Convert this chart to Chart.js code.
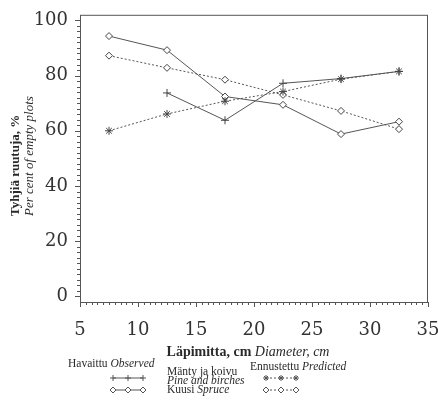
<!DOCTYPE html>
<html>
<head>
<meta charset="utf-8">
<script src="https://cdn.jsdelivr.net/npm/chart.js@4.4.1/dist/chart.umd.min.js"></script>
<style>
  html, body { margin: 0; padding: 0; background: #fff; }
  #wrap { width: 438px; height: 410px; position: relative; }
</style>
</head>
<body>
<div id="wrap"><canvas id="chart"></canvas></div>
<script>
// Diameter classes (cm) and share of empty plots (%)
const diameters = [7.5, 12.5, 17.5, 22.5, 27.5, 32.5];
const pineObserved = [null, 73.7, 63.8, 77.2, 78.9, 81.5];
const pinePredicted = [60.0, 66.1, 70.7, 74.2, 78.7, 81.5];
const spruceObserved = [94.3, 89.2, 72.4, 69.4, 58.8, 63.3];
const sprucePredicted = [87.2, 82.8, 78.5, 73.0, 67.2, 60.6];

const xTicks = [5, 10, 15, 20, 25, 30, 35];
const yTicks = [0, 20, 40, 60, 80, 100];

const INK = '#2a2a2a';
const LINE = '#555';
const SERIF = '"Liberation Serif", "Times New Roman", serif';

function toPoints(values) {
  return diameters.map((d, i) => ({ x: d, y: values[i] }));
}

// Axis frame, minor ticks, titles and legend
const decorations = {
  id: 'decorations',
  afterDraw(chart) {
    const ctx = chart.ctx;
    const area = chart.chartArea;
    const xs = chart.scales.x;
    const ys = chart.scales.y;

    ctx.save();
    ctx.strokeStyle = '#555';
    ctx.lineWidth = 1;
    ctx.strokeRect(area.left + 0.5, area.top + 0.5, area.right - area.left - 1, area.bottom - area.top);

    // x ticks: minor every 0.5, major every 5
    ctx.beginPath();
    for (let v = 5; v <= 35.001; v += 0.5) {
      const px = Math.round(xs.getPixelForValue(v)) + 0.5;
      const len = Math.abs(v % 5) < 0.01 ? 5 : 3;
      ctx.moveTo(px, area.bottom);
      ctx.lineTo(px, area.bottom + len);
    }
    // y ticks: minor every 2, major every 20
    for (let v = 0; v <= 100.001; v += 2) {
      const py = Math.round(ys.getPixelForValue(v)) + 0.5;
      const len = v % 20 === 0 ? 5 : 3;
      ctx.moveTo(area.left, py);
      ctx.lineTo(area.left - len, py);
    }
    ctx.stroke();

    ctx.fillStyle = INK;

    // y axis title (two rotated lines)
    ctx.save();
    ctx.translate(16, 216);
    ctx.rotate(-Math.PI / 2);
    ctx.textAlign = 'left';
    ctx.textBaseline = 'middle';
    ctx.font = 'bold 13px ' + SERIF;
    ctx.fillText('Tyhjiä ruutuja, %', 0, 0);
    ctx.font = 'italic 13px ' + SERIF;
    ctx.fillText('Per cent of empty plots', 0, 14);
    ctx.restore();

    // x axis title
    ctx.textBaseline = 'middle';
    ctx.textAlign = 'left';
    const boldPart = 'Läpimitta, cm ';
    const italicPart = 'Diameter, cm';
    ctx.font = 'bold 14px ' + SERIF;
    const wb = ctx.measureText(boldPart).width;
    ctx.font = 'italic 14px ' + SERIF;
    const wi = ctx.measureText(italicPart).width;
    let tx = 248 - (wb + wi) / 2;
    ctx.font = 'bold 14px ' + SERIF;
    ctx.fillText(boldPart, tx, 352);
    ctx.font = 'italic 14px ' + SERIF;
    ctx.fillText(italicPart, tx + wb, 352);

    // legend
    function mixed(parts, x, y) {
      parts.forEach(p => {
        ctx.font = (p.italic ? 'italic ' : '') + '11.5px ' + SERIF;
        ctx.fillText(p.text, x, y);
        x += ctx.measureText(p.text).width;
      });
    }
    mixed([{ text: 'Havaittu ' }, { text: 'Observed', italic: true }], 68, 364);
    mixed([{ text: 'Ennustettu ' }, { text: 'Predicted', italic: true }], 250, 367);
    mixed([{ text: 'Mänty ja koivu' }], 167, 372);
    mixed([{ text: 'Pine and birches', italic: true }], 167, 381);
    mixed([{ text: 'Kuusi ' }, { text: 'Spruce', italic: true }], 167, 390);

    function sample(x0, y, dashed, marker) {
      ctx.strokeStyle = LINE;
      ctx.lineWidth = 1;
      ctx.setLineDash(dashed ? [2, 2] : []);
      ctx.beginPath();
      ctx.moveTo(x0, y);
      ctx.lineTo(x0 + 30, y);
      ctx.stroke();
      ctx.setLineDash([]);
      [0, 15, 30].forEach(dx => {
        const cx = x0 + dx;
        ctx.beginPath();
        if (marker === 'cross') {
          ctx.moveTo(cx - 3, y); ctx.lineTo(cx + 3, y);
          ctx.moveTo(cx, y - 3); ctx.lineTo(cx, y + 3);
        } else if (marker === 'star') {
          ctx.moveTo(cx - 3, y); ctx.lineTo(cx + 3, y);
          ctx.moveTo(cx, y - 3); ctx.lineTo(cx, y + 3);
          ctx.moveTo(cx - 2, y - 2); ctx.lineTo(cx + 2, y + 2);
          ctx.moveTo(cx - 2, y + 2); ctx.lineTo(cx + 2, y - 2);
        } else {
          ctx.fillStyle = '#fff';
          ctx.moveTo(cx, y - 3); ctx.lineTo(cx + 3, y);
          ctx.lineTo(cx, y + 3); ctx.lineTo(cx - 3, y); ctx.closePath();
          ctx.fill();
        }
        ctx.stroke();
      });
      ctx.fillStyle = INK;
    }
    sample(113, 378, false, 'cross');
    sample(113, 390, false, 'diamond');
    sample(266, 378, true, 'star');
    sample(266, 390, true, 'diamond');

    ctx.restore();
  }
};

const baseLine = {
  type: 'line',
  borderColor: LINE,
  borderWidth: 1,
  pointBorderColor: '#444',
  pointBackgroundColor: '#fff',
  pointBorderWidth: 1,
  tension: 0,
  spanGaps: false
};

new Chart(document.getElementById('chart'), {
  type: 'line',
  data: {
    datasets: [
      Object.assign({}, baseLine, {
        label: 'Mänty ja koivu, havaittu',
        data: toPoints(pineObserved),
        pointStyle: 'cross',
        pointRadius: 4
      }),
      Object.assign({}, baseLine, {
        label: 'Mänty ja koivu, ennustettu',
        data: toPoints(pinePredicted),
        borderDash: [2, 2],
        pointStyle: 'star',
        pointRadius: 4
      }),
      Object.assign({}, baseLine, {
        label: 'Kuusi, havaittu',
        data: toPoints(spruceObserved),
        pointStyle: 'rectRot',
        pointRadius: 3.5
      }),
      Object.assign({}, baseLine, {
        label: 'Kuusi, ennustettu',
        data: toPoints(sprucePredicted),
        borderDash: [2, 2],
        pointStyle: 'rectRot',
        pointRadius: 3.5
      })
    ]
  },
  options: {
    responsive: true,
    maintainAspectRatio: false,
    animation: false,
    devicePixelRatio: 1,
    layout: { padding: { left: 0, right: 0, top: 9, bottom: 0 } },
    plugins: {
      legend: { display: false },
      tooltip: { enabled: false }
    },
    scales: {
      x: {
        type: 'linear',
        min: 5,
        max: 35,
        grid: { display: false },
        border: { display: false },
        afterBuildTicks: scale => { scale.ticks = xTicks.map(v => ({ value: v })); },
        afterFit: scale => {
          scale.height = 108;
          scale.paddingLeft = 0;
          scale.paddingRight = 10;
        },
        ticks: {
          padding: 10,
          maxRotation: 0,
          color: '#333',
          font: { family: '"DejaVu Serif", serif', size: 18 }
        }
      },
      y: {
        type: 'linear',
        min: -2,
        max: 102,
        grid: { display: false },
        border: { display: false },
        afterBuildTicks: scale => { scale.ticks = yTicks.map(v => ({ value: v })); },
        afterFit: scale => { scale.width = 80; },
        ticks: {
          padding: 4,
          color: '#333',
          font: { family: '"DejaVu Serif", serif', size: 18 }
        }
      }
    }
  },
  plugins: [decorations]
});
</script>
</body>
</html>
